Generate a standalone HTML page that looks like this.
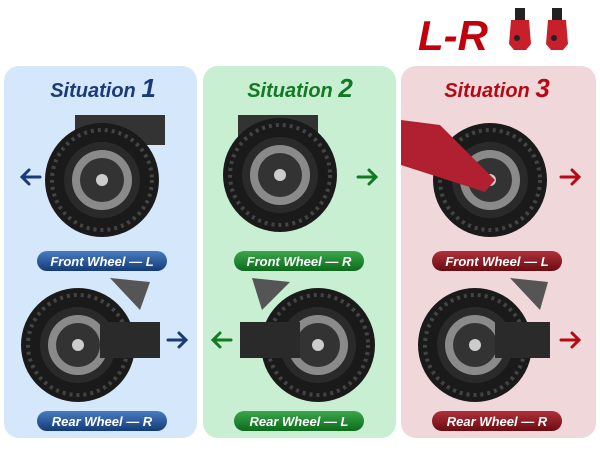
<!DOCTYPE html>
<html><head><style>
body{margin:0;width:600px;height:450px;background:#fff;overflow:hidden;font-family:"Liberation Sans",sans-serif}
</style></head><body>
<svg width="600" height="450" xmlns="http://www.w3.org/2000/svg">
<defs>
<linearGradient id="gb" x1="0" y1="0" x2="0" y2="1"><stop offset="0" stop-color="#4a7cc0"/><stop offset="1" stop-color="#123a78"/></linearGradient>
<linearGradient id="gg" x1="0" y1="0" x2="0" y2="1"><stop offset="0" stop-color="#3aa64a"/><stop offset="1" stop-color="#0c6a1c"/></linearGradient>
<linearGradient id="gr" x1="0" y1="0" x2="0" y2="1"><stop offset="0" stop-color="#b0303a"/><stop offset="1" stop-color="#6a0c12"/></linearGradient>
<g id="wheel">
<circle r="57" fill="#1a1a1a"/>
<circle r="50" fill="none" stroke="#444" stroke-width="4" stroke-dasharray="3 4"/>
<circle r="38" fill="#2a2a2a"/>
<circle r="30" fill="#8a8a8a"/>
<circle r="22" fill="#333"/>
<circle r="6" fill="#ccc"/>
</g>
<g id="cal"><rect x="-5" y="0" width="10" height="22" fill="#222"/><path d="M-9 12 L9 12 L11 36 L6 42 L-6 42 L-11 36Z" fill="#c8202a"/><circle cx="-3" cy="30" r="3" fill="#222"/></g>
</defs>
<rect x="4" y="66" width="193" height="372" rx="15" fill="#d5e7fb"/>
<rect x="203" y="66" width="193" height="372" rx="15" fill="#c9efd3"/>
<rect x="401" y="66" width="195" height="372" rx="15" fill="#f0d8da"/>
<text x="418" y="50" font-size="42" font-weight="bold" font-style="italic" fill="#c2000c">L-R</text>
<use href="#cal" x="520" y="8"/>
<use href="#cal" x="557" y="8"/>
<text x="103" y="97" font-size="20" font-weight="bold" font-style="italic" fill="#1a3a78" text-anchor="middle">Situation <tspan font-size="26">1</tspan></text>
<text x="300" y="97" font-size="20" font-weight="bold" font-style="italic" fill="#127a22" text-anchor="middle">Situation <tspan font-size="26">2</tspan></text>
<text x="497" y="97" font-size="20" font-weight="bold" font-style="italic" fill="#b50a14" text-anchor="middle">Situation <tspan font-size="26">3</tspan></text>
<!-- front wheels -->
<rect x="75" y="115" width="90" height="30" fill="#333"/>
<use href="#wheel" x="102" y="180"/>
<rect x="238" y="115" width="80" height="30" fill="#333"/>
<use href="#wheel" x="280" y="175"/>
<use href="#wheel" x="490" y="180"/>
<path d="M401 120 L440 125 L495 180 L485 192 L401 165Z" fill="#b02030"/>
<!-- rear wheels -->
<use href="#wheel" x="78" y="345"/>
<rect x="100" y="322" width="60" height="36" fill="#2a2a2a"/>
<path d="M110 278 L150 282 L140 310Z" fill="#555"/>
<use href="#wheel" x="318" y="345"/>
<rect x="240" y="322" width="60" height="36" fill="#2a2a2a"/>
<path d="M252 278 L290 282 L262 310Z" fill="#555"/>
<use href="#wheel" x="475" y="345"/>
<rect x="495" y="322" width="55" height="36" fill="#2a2a2a"/>
<path d="M510 278 L548 282 L540 310Z" fill="#555"/>
<!-- arrows -->
<g stroke-width="3" fill="none" stroke-linecap="round">
<path d="M40 177 H22 M29 170 L22 177 L29 184" stroke="#1a3a78"/>
<path d="M168 340 H186 M179 333 L186 340 L179 347" stroke="#1a3a78"/>
<path d="M358 177 H376 M369 170 L376 177 L369 184" stroke="#127a22"/>
<path d="M231 340 H213 M220 333 L213 340 L220 347" stroke="#127a22"/>
<path d="M561 177 H579 M572 170 L579 177 L572 184" stroke="#b50a14"/>
<path d="M561 340 H579 M572 333 L579 340 L572 347" stroke="#b50a14"/>
</g>
<!-- pills -->
<g font-size="13" font-style="italic" font-weight="bold" fill="#fff" text-anchor="middle">
<rect x="37" y="251" width="130" height="20" rx="10" fill="url(#gb)"/><text x="102" y="266">Front Wheel — L</text>
<rect x="37" y="411" width="130" height="20" rx="10" fill="url(#gb)"/><text x="102" y="426">Rear Wheel — R</text>
<rect x="234" y="251" width="130" height="20" rx="10" fill="url(#gg)"/><text x="299" y="266">Front Wheel — R</text>
<rect x="234" y="411" width="130" height="20" rx="10" fill="url(#gg)"/><text x="299" y="426">Rear Wheel — L</text>
<rect x="432" y="251" width="130" height="20" rx="10" fill="url(#gr)"/><text x="497" y="266">Front Wheel — L</text>
<rect x="432" y="411" width="130" height="20" rx="10" fill="url(#gr)"/><text x="497" y="426">Rear Wheel — R</text>
</g>
</svg>
</body></html>
